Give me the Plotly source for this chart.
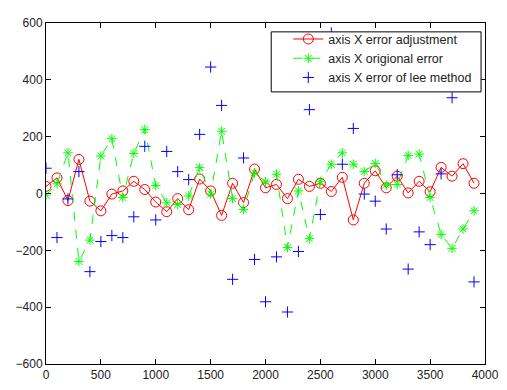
import plotly.graph_objects as go

x_vals = list(range(0, 4000, 100))

adjust_err = [25, 55, -25, 120, -27, -61, -2, 9, 43, 14,
              -30, -64, -18, -57, 51, 9, -77, 36, -32, 86,
              20, 32, -18, 50, 25, 36, 7, 57, -93, 36,
              80, 20, 61, 2, 43, 6, 92, 61, 105, 36]

orig_err = [-6, 34, 143, -239, -164, 132, 193, -14, 141, 225,
            28, -33, -39, -9, 91, -2, 219, -18, -56, 73,
            41, 68, -190, 9, -159, 43, 103, 143, 103, 77,
            106, 30, 32, 134, 139, -14, -144, -193, -125, -61]

lee_err = [89, -155, -19, 77, -275, -169, -148, -155, -82, 166,
           -93, 148, 77, 49, 208, 445, 310, -302, 125, -232,
           -381, -223, -417, -204, 295, -74, 565, 103, 229, -2,
           -27, -125, 66, -266, -135, -180, 69, 337, 460, -311]

x_ticks = [0, 500, 1000, 1500, 2000, 2500, 3000, 3500, 4000]
y_ticks = [-600, -400, -200, 0, 200, 400, 600]

FONT = "Liberation Sans, Arial, sans-serif"

fig = go.Figure()
fig.add_trace(go.Scatter(
    x=x_vals, y=adjust_err, mode="lines+markers",
    name="axis X error adjustment",
    line=dict(color="red", width=1),
    marker=dict(symbol="circle-open", size=10, color="red", line=dict(width=1)),
))
fig.add_trace(go.Scatter(
    x=x_vals, y=orig_err, mode="lines+markers",
    name="axis X origional error",
    line=dict(color="#00ff00", width=1, dash="dash"),
    marker=dict(symbol="asterisk-open", size=8, color="#00ff00", line=dict(width=1, color="#00ff00")),
))
fig.add_trace(go.Scatter(
    x=x_vals, y=lee_err, mode="markers",
    name="axis X error of lee method",
    marker=dict(symbol="cross-thin-open", size=8, color="blue", line=dict(width=1, color="blue")),
))

axis_common = dict(
    showline=True, linecolor="black", linewidth=1, mirror="ticks",
    ticks="inside", ticklen=5, tickcolor="black",
    showgrid=False, zeroline=False,
    tickfont=dict(family=FONT, size=12, color="#222"),
)

# legend box (white, bordered) drawn above the data, legend text on top of it
fig.add_shape(
    type="rect", xref="paper", yref="paper",
    x0=0.513, x1=0.991, y0=0.798, y1=0.974,
    fillcolor="white", line=dict(color="black", width=1), layer="above",
)

# page body has an 8px default margin, so the figure is 8px smaller
fig.update_layout(
    width=499, height=382,
    margin=dict(l=35, r=16, t=8, b=22),
    paper_bgcolor="white", plot_bgcolor="white",
    xaxis=dict(range=[0, 4000], tickvals=x_ticks, **axis_common),
    yaxis=dict(range=[-600, 600], tickvals=y_ticks, **axis_common),
    legend=dict(
        x=0.552, y=0.996, xanchor="left", yanchor="top",
        bgcolor="rgba(0,0,0,0)", borderwidth=0,
        font=dict(family=FONT, size=12.5, color="#222"),
        tracegroupgap=0,
    ),
    showlegend=True,
)

fig.write_html("out.html")
